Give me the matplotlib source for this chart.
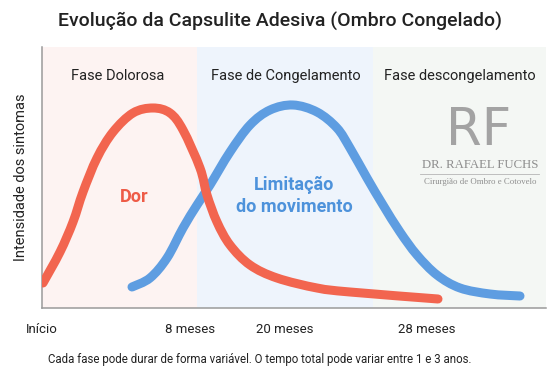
import matplotlib
matplotlib.use("Agg")
import matplotlib.pyplot as plt
from matplotlib.lines import Line2D
from matplotlib.path import Path
from matplotlib.patches import PathPatch

plt.rcParams['font.family'] = ['Roboto', 'DejaVu Sans']

# ---- data (time position, symptom intensity) ----
dor_x = [1, 18, 31, 41, 55, 71, 91, 111, 128, 141, 158, 165, 175, 188, 208, 235, 275, 308, 396]
dor_y = [25, 56, 86, 116, 150, 176, 195, 200, 195, 178, 140, 113, 86, 63, 43, 30, 20, 16, 9]

lim_x = [90, 108, 125, 141, 155, 168, 188, 208, 228, 251, 275, 295, 308, 325, 341, 358, 375, 395, 418, 448, 478]
lim_y = [21, 30, 50, 80, 103, 123, 156, 183, 198, 203, 196, 180, 160, 130, 103, 76, 53, 33, 20, 14, 12]

phase_edges = [0, 155, 331, 504]
phase_names = ["Fase Dolorosa", "Fase de Congelamento", "Fase descongelamento"]
phase_colors = ["#FDF3F2", "#EEF4FC", "#F4F7F4"]
phase_label_x = [76, 244, 418]

tick_pos = [0, 148, 243, 385]
tick_labels = ["Início", "8 meses", "20 meses", "28 meses"]

W, H = 550, 376
fig = plt.figure(figsize=(W / 100, H / 100), dpi=100)
fig.patch.set_facecolor("white")

def fx(px):
    return px / W

def fy(py):
    return 1 - py / H

ax = fig.add_axes([fx(42), fy(308), fx(546) - fx(42), fy(47) - fy(308)])
ax.set_xlim(0, 504)
ax.set_ylim(0, 261)
ax.set_facecolor("white")


def smooth_path(xs, ys):
    """Bezier path through the given points (Catmull-Rom control handles)."""
    pts = list(zip(xs, ys))
    verts = [pts[0]]
    codes = [Path.MOVETO]
    n = len(pts)
    for i in range(n - 1):
        p0 = pts[i - 1] if i > 0 else pts[i]
        p1 = pts[i]
        p2 = pts[i + 1]
        p3 = pts[i + 2] if i + 2 < n else pts[i + 1]
        c1 = (p1[0] + (p2[0] - p0[0]) / 6, p1[1] + (p2[1] - p0[1]) / 6)
        c2 = (p2[0] - (p3[0] - p1[0]) / 6, p2[1] - (p3[1] - p1[1]) / 6)
        verts += [c1, c2, p2]
        codes += [Path.CURVE4] * 3
    return Path(verts, codes)


for i in range(3):
    ax.axvspan(phase_edges[i], phase_edges[i + 1], color=phase_colors[i], lw=0, zorder=0)
    ax.text(phase_label_x[i], 232, phase_names[i], ha="center", va="center",
            fontsize=10.5, color="#222222")

ax.add_patch(PathPatch(smooth_path(lim_x, lim_y), fill=False, edgecolor="#5E9DE1",
                       lw=6.5, capstyle="round", joinstyle="round", zorder=2))
ax.add_patch(PathPatch(smooth_path(dor_x, dor_y), fill=False, edgecolor="#F2654F",
                       lw=6.5, capstyle="round", joinstyle="round", zorder=3))

ax.text(92, 111, "Dor", ha="center", va="center", fontsize=13,
        fontweight="bold", color="#EE5B47", zorder=4)
ax.text(252, 112, "Limitação\ndo movimento", ha="center", va="center",
        fontsize=13, fontweight="bold", color="#4D92DB", linespacing=1.25, zorder=4)

for s in ["top", "right"]:
    ax.spines[s].set_visible(False)
for s in ["left", "bottom"]:
    ax.spines[s].set_color("#9a9a9a")
    ax.spines[s].set_linewidth(1.1)
ax.set_yticks([])
ax.set_xticks(tick_pos)
ax.set_xticklabels(tick_labels, fontsize=9.5, color="#222222")
ax.tick_params(axis="x", length=0, pad=10.5)

ax.set_ylabel("Intensidade dos sintomas", fontsize=10.5, color="#222222", labelpad=10)

# logo
ax.text(479 - 42, 308 - 131, "RF", ha="center", va="center", fontsize=37,
        color="#A3A3A3", family="DejaVu Sans", zorder=1)
ax.text(480 - 42, 308 - 165.5, "DR. RAFAEL FUCHS", ha="center", va="center",
        fontsize=9.2, color="#8E8E8E", family="Liberation Serif", zorder=1)
ax.add_line(Line2D([420 - 42, 539 - 42], [308 - 174, 308 - 174], color="#B5B5B5", lw=0.6))
ax.text(480 - 42, 308 - 182.5, "Cirurgião de Ombro e Cotovelo", ha="center",
        va="center", fontsize=6.3, color="#8E8E8E", family="Liberation Serif", zorder=1)

fig.text(fx(280), fy(21), "Evolução da Capsulite Adesiva (Ombro Congelado)",
         ha="center", va="center", fontsize=14, fontweight=500, color="#222222")
fig.text(fx(260), fy(360), "Cada fase pode durar de forma variável. O tempo total pode variar entre 1 e 3 anos.",
         ha="center", va="center", fontsize=8.3, color="#222222")

fig.savefig("out.png", dpi=100)
